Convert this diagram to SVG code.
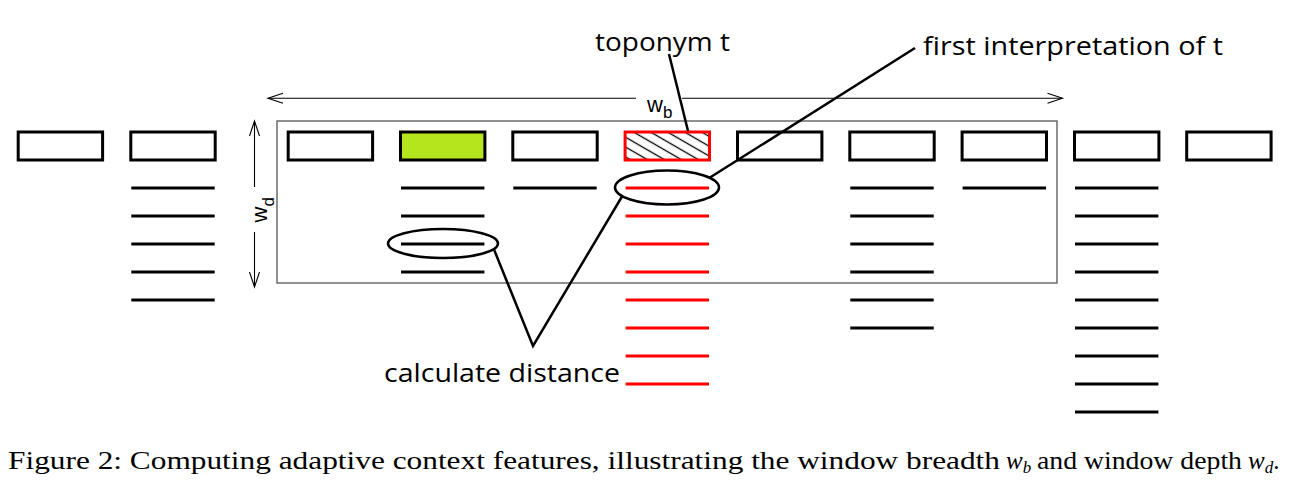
<svg xmlns="http://www.w3.org/2000/svg" width="1292" height="487" viewBox="0 0 1292 487">
<style>
.box{fill:#fff;stroke:#000;stroke-width:3}
.ln{stroke:#000;stroke-width:3}
.rl{stroke:#f00;stroke-width:3}
.ptr{stroke:#000;stroke-width:2.5;fill:none}
.ell{fill:none;stroke:#000;stroke-width:2.5}
.dim{stroke:#000;stroke-width:1.1;fill:none}
.lbl{font-family:"Open Sans","Noto Sans",sans-serif;font-size:26px;fill:#000}
.sym{font-family:"Liberation Sans",Arial,sans-serif;fill:#000}
.cap{font-family:"Liberation Serif","Times New Roman",serif;font-size:25px;fill:#000}
</style>
<defs>
<marker id="arr" markerUnits="userSpaceOnUse" markerWidth="20" markerHeight="14" refX="15.5" refY="6" orient="auto-start-reverse">
<path d="M0.5,1 L15.5,6 L0.5,11" fill="none" stroke="#000" stroke-width="1.1"/>
</marker>
<pattern id="hatch" patternUnits="userSpaceOnUse" width="10" height="8.5" patternTransform="translate(625,132) rotate(30)">
<rect width="10" height="8.5" fill="#fff"/>
<line x1="-1" y1="4.25" x2="11" y2="4.25" stroke="#000" stroke-width="1.3"/>
</pattern>
</defs>
<rect width="1292" height="487" fill="#fff"/>

<g id="window">
<rect x="277" y="121" width="780" height="162" fill="none" stroke="#555" stroke-width="1.3"/>
</g>

<g id="col0"><rect class="box" x="18.2" y="132" width="84.4" height="28"/></g>
<g id="col1">
<rect class="box" x="130.8" y="132" width="84.4" height="28"/>
<path class="ln" d="M131.3,188H214.7M131.3,216H214.7M131.3,244H214.7M131.3,272H214.7M131.3,300H214.7"/>
</g>
<g id="col2"><rect class="box" x="288.2" y="132" width="84.4" height="28"/></g>
<g id="col3">
<rect class="box" x="400.5" y="132" width="84.4" height="28" style="fill:#b5e51d"/>
<path class="ln" d="M401,188H484.4M401,216H484.4M401,244H484.4M401,272H484.4"/>
</g>
<g id="col4">
<rect class="box" x="512.8" y="132" width="84.4" height="28"/>
<path class="ln" d="M513.3,188H596.7"/>
</g>
<g id="col5">
<rect x="625.1" y="132" width="84.4" height="28" fill="url(#hatch)" stroke="#f00" stroke-width="3"/>
<path class="rl" d="M625.6,188H709M625.6,216H709M625.6,244H709M625.6,272H709M625.6,300H709M625.6,328H709M625.6,356H709M625.6,384H709"/>
</g>
<g id="col6"><rect class="box" x="737.5" y="132" width="84.4" height="28"/></g>
<g id="col7">
<rect class="box" x="849.8" y="132" width="84.4" height="28"/>
<path class="ln" d="M850.3,188H933.7M850.3,216H933.7M850.3,244H933.7M850.3,272H933.7M850.3,300H933.7M850.3,328H933.7"/>
</g>
<g id="col8">
<rect class="box" x="962.1" y="132" width="84.4" height="28"/>
<path class="ln" d="M962.6,188H1046"/>
</g>
<g id="col9">
<rect class="box" x="1074.5" y="132" width="84.4" height="28"/>
<path class="ln" d="M1075,188H1158.4M1075,216H1158.4M1075,244H1158.4M1075,272H1158.4M1075,300H1158.4M1075,328H1158.4M1075,356H1158.4M1075,384H1158.4M1075,412H1158.4"/>
</g>
<g id="col10"><rect class="box" x="1186.7" y="132" width="84.4" height="28"/></g>

<g id="dimensions">
<line class="dim" x1="636" y1="98.3" x2="268" y2="98.3" marker-end="url(#arr)"/>
<line class="dim" x1="682" y1="98.3" x2="1062.5" y2="98.3" marker-end="url(#arr)"/>
<text class="sym" x="647" y="112" font-size="22">w<tspan font-size="17" dy="6">b</tspan></text>
<line class="dim" x1="254.5" y1="187" x2="254.5" y2="121" marker-end="url(#arr)"/>
<line class="dim" x1="254.5" y1="232" x2="254.5" y2="287" marker-end="url(#arr)"/>
<text class="sym" transform="translate(267,222.5) rotate(-90)" font-size="22">w<tspan font-size="17" dy="7">d</tspan></text>
</g>

<g id="annotations">
<ellipse id="ell-first" class="ell" cx="667" cy="187.5" rx="52" ry="17"/>
<ellipse id="ell-dist" class="ell" cx="443" cy="243.5" rx="55" ry="14.5"/>
</g>

<g id="connectors">
<line class="ptr" x1="669" y1="54" x2="688" y2="131"/>
<line class="ptr" x1="915" y1="48" x2="710" y2="177.5"/>
<polyline class="ptr" points="494,249.5 533,346 622,196.5"/>
</g>

<g id="labels">
<text class="lbl" x="595" y="51" textLength="135" lengthAdjust="spacingAndGlyphs">toponym t</text>
<text class="lbl" x="923" y="55" textLength="300" lengthAdjust="spacingAndGlyphs">first interpretation of t</text>
<text class="lbl" x="384" y="382" textLength="236" lengthAdjust="spacingAndGlyphs">calculate distance</text>
</g>

<g id="caption">
<text class="cap" x="8" y="469" textLength="992" lengthAdjust="spacingAndGlyphs">Figure 2: Computing adaptive context features, illustrating the window breadth</text>
<text class="cap" x="1006" y="469" font-style="italic">w<tspan font-size="17" dy="4">b</tspan></text>
<text class="cap" x="1037" y="469" textLength="205" lengthAdjust="spacingAndGlyphs">and window depth</text>
<text class="cap" x="1248" y="469" font-style="italic">w<tspan font-size="17" dy="4">d</tspan><tspan font-style="normal" dy="-4">.</tspan></text>
</g>
</svg>
